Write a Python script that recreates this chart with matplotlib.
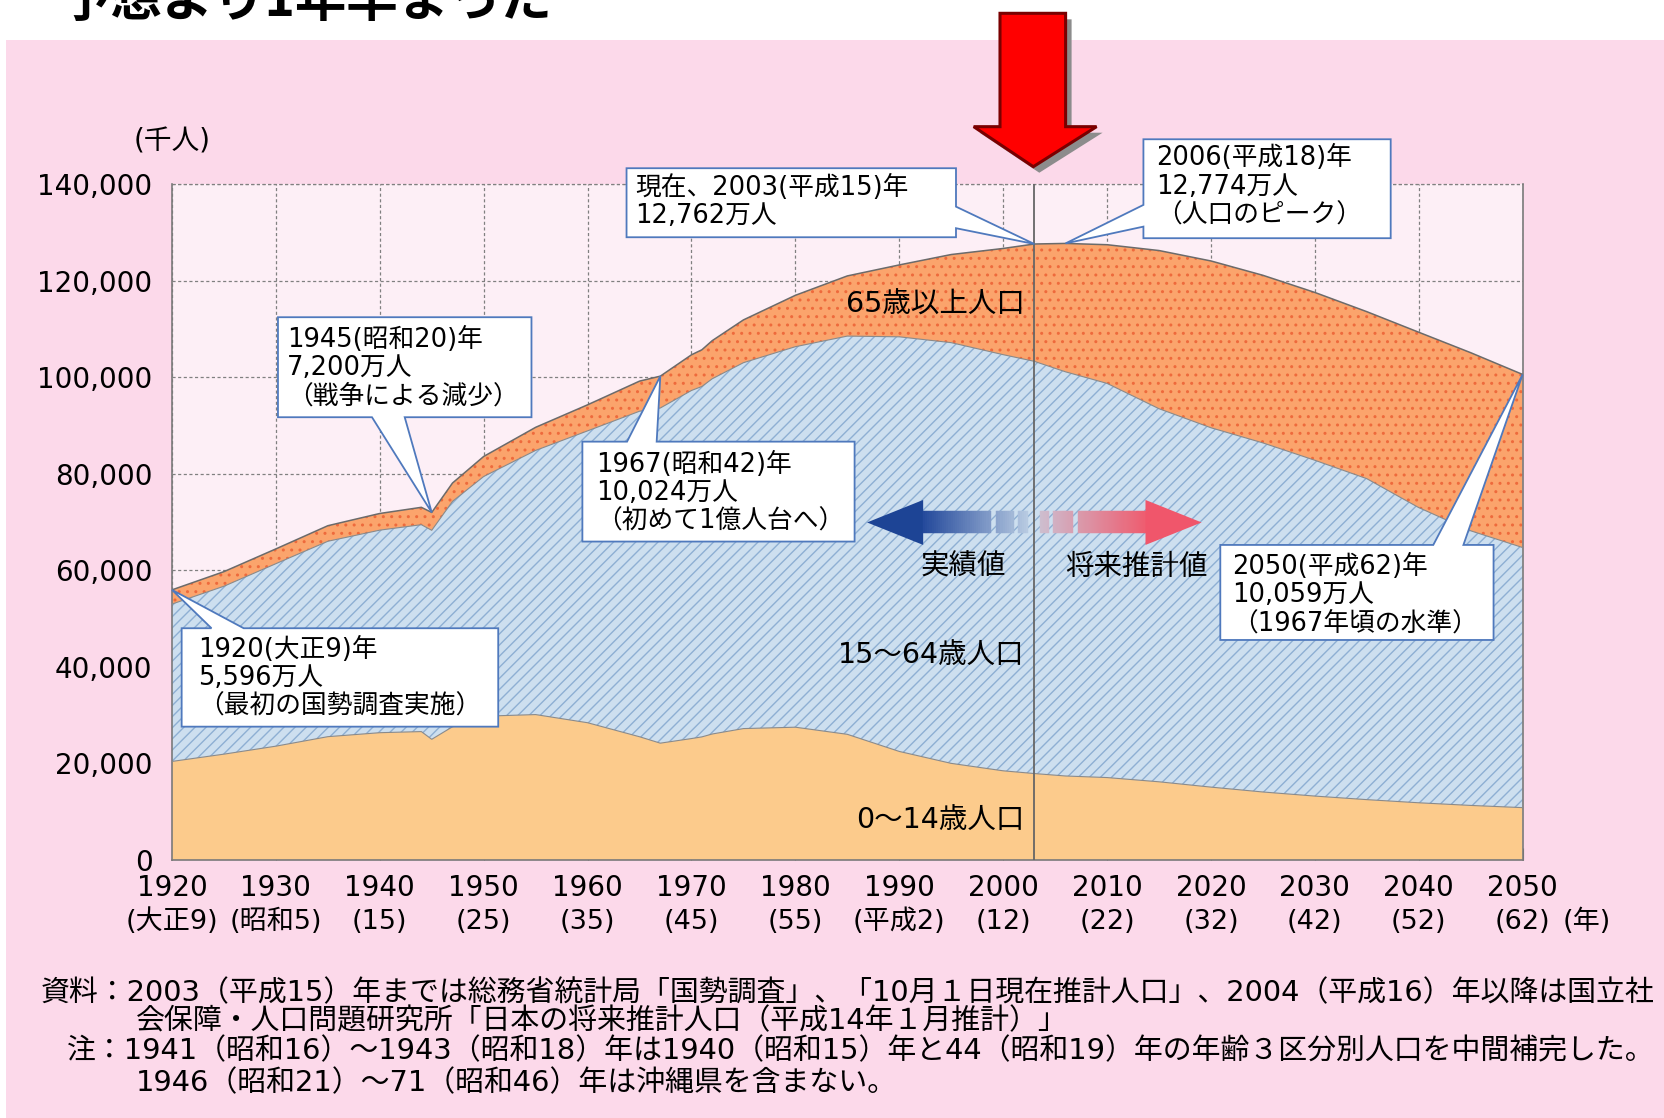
import numpy as np
import matplotlib
matplotlib.use('Agg')
import matplotlib.pyplot as plt
from matplotlib.patches import Polygon, Rectangle
from matplotlib import colors as mcolors

plt.rcParams['font.family'] = ['DejaVu Sans', 'Noto Sans CJK JP']
plt.rcParams['hatch.linewidth'] = 1.0

# 年齢3区分別人口（千人）
years = [1920, 1925, 1930, 1935, 1940, 1944, 1945, 1947, 1950, 1955, 1960, 1965, 1967,
         1970, 1971, 1972, 1975, 1980, 1985, 1990, 1995, 2000, 2003, 2006, 2010, 2015,
         2020, 2025, 2030, 2035, 2040, 2045, 2050]
age_0_14 = [20416, 21924, 23579, 25545, 26369, 26600, 25000, 27600, 29786, 30123, 28434, 25529, 24200,
            25153, 25500, 26100, 27221, 27507, 26033, 22486, 20014, 18472, 17905, 17400, 17074, 16197,
            15095, 14085, 13237, 12500, 11849, 11300, 10842]
age_15_64 = [32605, 34792, 37807, 40484, 41966, 42864, 43300, 46700, 49661, 54729, 60469, 67444, 69440,
             72119, 72600, 73600, 75807, 78835, 82506, 85904, 87165, 86220, 85404, 83740, 81665, 77297,
             74453, 72325, 69576, 66500, 61157, 56900, 53889]
age_65 = [2941, 3021, 3064, 3225, 3454, 3600, 3700, 3800, 4155, 4786, 5398, 6236, 6600,
          7393, 7600, 7900, 8865, 10647, 12468, 14895, 18261, 22005, 24311, 26600, 28735, 32772,
          34559, 34726, 34770, 34600, 36332, 36900, 35863]

decades = list(range(1920, 2051, 10))
era_labels = ['(大正9)', '(昭和5)', '(15)', '(25)', '(35)', '(45)', '(55)',
              '(平成2)', '(12)', '(22)', '(32)', '(42)', '(52)', '(62)']
yticks = list(range(0, 140001, 20000))

y1 = np.array(age_0_14)
y2 = y1 + np.array(age_15_64)
y3 = y2 + np.array(age_65)


def total(yr):
    return y3[years.index(yr)]


fig = plt.figure(figsize=(16.65, 11.18), dpi=100)
fig.patch.set_facecolor('white')
fig.add_artist(Rectangle((0.0036, 0), 1, 0.9642, transform=fig.transFigure,
                         facecolor='#fcd9ea', edgecolor='none', zorder=0))

ax = fig.add_axes([0.1033, 0.2308, 0.8112, 0.6044])
ax.set_facecolor('#fdeff6')

ax.fill_between(years, 0, y1, facecolor='#fccb8c', edgecolor='none', lw=0, zorder=2)
ax.fill_between(years, y1, y2, facecolor='#cddfef', edgecolor='#8eafd3', hatch='///', lw=0, zorder=2)
ax.fill_between(years, y2, y3, facecolor='#fba46c', edgecolor='#ee6a3c', hatch='..', lw=0, zorder=2)
ax.plot(years, y3, color='#6b6b6b', lw=1.1, zorder=3)
ax.plot(years, y2, color='#8a8a8a', lw=0.8, zorder=3)
ax.plot(years, y1, color='#8a8a8a', lw=0.8, zorder=3)

ax.set_xlim(1920, 2050)
ax.set_ylim(0, 140000)
ax.grid(True, color='#808080', lw=0.9, ls=(0, (2.5, 2)))
ax.set_axisbelow(True)
ax.axhline(140000, color='#808080', lw=0.9, ls=(0, (2.5, 2)), clip_on=False, zorder=1)
ax.axvline(2003, color='#666666', lw=1.3, zorder=4)

ax.set_xticks(decades)
ax.set_xticklabels([str(d) for d in decades], fontsize=20)
ax.set_yticks(yticks)
ax.set_yticklabels([f'{v:,}' for v in yticks], fontsize=20)
ax.tick_params(axis='y', length=0, pad=14)
ax.tick_params(axis='x', direction='in', length=9, color='#666666', pad=10)
ax.spines['top'].set_visible(False)
for s in ['left', 'right', 'bottom']:
    ax.spines[s].set_color('#7a7a7a')
    ax.spines[s].set_linewidth(1.2)

for d, lab in zip(decades, era_labels):
    ax.text(d, -0.0913, lab, transform=ax.get_xaxis_transform(), ha='center', va='center', fontsize=19.5)
ax.text(2056.2, -0.0913, '(年)', transform=ax.get_xaxis_transform(), ha='center', va='center',
        fontsize=19.5, clip_on=False)

fig.text(0.1033, 0.8733, '(千人)', ha='center', va='center', fontsize=20)

# 区分ラベル
ax.text(2002.1, 115040, '65歳以上人口', ha='right', va='center', fontsize=20.5, zorder=5)
ax.text(2002.1, 42410, '15～64歳人口', ha='right', va='center', fontsize=20.5, zorder=5)
ax.text(2002.1, 8310, '0～14歳人口', ha='right', va='center', fontsize=20.5, zorder=5)


def callout(x0, x1, y0, y1, side, a, b, tip, lines, tx, ty):
    if side == 'top':
        pts = [(x0, y0), (x1, y0), (x1, y1), (b, y1), tip, (a, y1), (x0, y1)]
    elif side == 'bottom':
        pts = [(x0, y0), (a, y0), tip, (b, y0), (x1, y0), (x1, y1), (x0, y1)]
    elif side == 'left':
        pts = [(x0, y0), (x1, y0), (x1, y1), (x0, y1), (x0, b), tip, (x0, a)]
    else:
        pts = [(x0, y0), (x1, y0), (x1, a), tip, (x1, b), (x1, y1), (x0, y1)]
    ax.add_patch(Polygon(pts, closed=True, facecolor='white', edgecolor='#4f79bd',
                         lw=1.3, zorder=6, clip_on=False))
    for i, s in enumerate(lines):
        ax.annotate(s, (tx, ty), xytext=(0, -20.5 * i), textcoords='offset points',
                    ha='left', va='center', fontsize=18.5, zorder=7, annotation_clip=False)


callout(1920.93, 1951.4, 27620, 48010, 'top', 1923.8, 1926.9, (1920, total(1920)),
        ['1920(大正9)年', '5,596万人', '（最初の国勢調査実施）'], 1922.5, 43510)
callout(1930.2, 1954.6, 91730, 112450, 'bottom', 1939.25, 1942.4, (1945, total(1945)),
        ['1945(昭和20)年', '7,200万人', '（戦争による減少）'], 1931.1, 107740)
callout(1959.5, 1985.7, 65970, 86670, 'top', 1963.8, 1966.65, (1967, total(1967)),
        ['1967(昭和42)年', '10,024万人', '（初めて1億人台へ）'], 1960.8, 81840)
callout(1963.75, 1995.46, 129020, 143320, 'right', 130890, 135360, (2003, total(2003)),
        ['現在、2003(平成15)年', '12,762万人'], 1964.6, 139240)
callout(2013.5, 2037.3, 128820, 149320, 'left', 131220, 135720, (2006, total(2006)),
        ['2006(平成18)年', '12,774万人', '（人口のピーク）'], 2014.7, 145390)
callout(2020.9, 2047.2, 45580, 65270, 'top', 2041.4, 2044.3, (2050, total(2050)),
        ['2050(平成62)年', '10,059万人', '（1967年頃の水準）'], 2022.0, 60710)

# 実績値 / 将来推計値 の矢印
head_lo, head_hi = 65270, 74590
sh_lo, sh_hi = 67690, 72370
mid = (head_lo + head_hi) / 2


def grad_pieces(segs, c0, c1, xa, xb):
    c0 = np.array(mcolors.to_rgb(c0))
    c1 = np.array(mcolors.to_rgb(c1))
    for s, e in segs:
        n = max(int((e - s) / 0.2), 1)
        xs = np.linspace(s, e, n + 1)
        for p, q in zip(xs[:-1], xs[1:]):
            t = min(max(((p + q) / 2 - xa) / (xb - xa), 0), 1)
            col = c0 * (1 - t) + c1 * t
            ax.add_patch(Rectangle((p, sh_lo), q - p, sh_hi - sh_lo, facecolor=col,
                                   edgecolor=col, lw=0.3, zorder=4))


ax.add_patch(Polygon([(1986.9, mid), (1992.3, head_hi), (1992.3, head_lo)],
                     facecolor='#1d4495', edgecolor='none', zorder=4))
grad_pieces([(1992.3, 1998.8), (1999.3, 2001.0), (2001.4, 2002.4)],
            '#24499b', '#b8cbe2', 1992.3, 2002.4)
grad_pieces([(2003.5, 2004.4), (2004.8, 2006.7), (2007.2, 2013.7)],
            '#cdbfd0', '#ee5d70', 2003.5, 2013.7)
ax.add_patch(Polygon([(2013.7, head_hi), (2019.1, mid), (2013.7, head_lo)],
                     facecolor='#f0566b', edgecolor='none', zorder=4))
ax.text(1996.2, 60770, '実績値', ha='center', va='center', fontsize=20.5, zorder=5)
ax.text(2012.8, 60770, '将来推計値', ha='center', va='center', fontsize=20.5, zorder=5)

# 上部の赤い矢印
arrow_pts = [(0.6006, 0.9881), (0.6400, 0.9881), (0.6400, 0.8867), (0.6586, 0.8867),
             (0.6206, 0.8509), (0.5848, 0.8867), (0.6006, 0.8867)]
shadow = [(x + 0.0036, y - 0.0054) for x, y in arrow_pts]
fig.add_artist(Polygon(shadow, transform=fig.transFigure, facecolor='#8c8c8c', edgecolor='none', zorder=8))
fig.add_artist(Polygon(arrow_pts, transform=fig.transFigure, facecolor='#ff0000',
                       edgecolor='#7a0000', lw=2.2, zorder=9))

# 見出し（上端で切れている）
fig.text(0.036, 0.976, '予想より1年早まった', fontsize=37, fontweight='bold',
         family=['Noto Sans CJK JP'], ha='left', va='bottom')

# 注記
notes = [
    (0.0243, 0.1118, '資料：2003（平成15）年までは総務省統計局「国勢調査」、「10月１日現在推計人口」、2004（平成16）年以降は国立社'),
    (0.0816, 0.0862, '会保障・人口問題研究所「日本の将来推計人口（平成14年１月推計）」'),
    (0.0402, 0.0597, '注：1941（昭和16）～1943（昭和18）年は1940（昭和15）年と44（昭和19）年の年齢３区分別人口を中間補完した。'),
    (0.0816, 0.0311, '1946（昭和21）～71（昭和46）年は沖縄県を含まない。'),
]
note_texts = [fig.text(x, y, s, ha='left', va='center', fontsize=19) for x, y, s in notes]
renderer = fig.canvas.get_renderer()
w = note_texts[0].get_window_extent(renderer).width
size = 19 * 1616 / w
for t in note_texts:
    t.set_fontsize(size)

fig.savefig('out.png', dpi=100)
